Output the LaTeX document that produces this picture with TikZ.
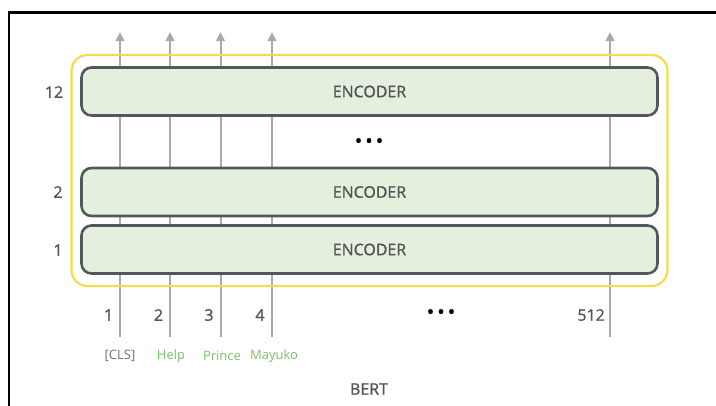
\documentclass[tikz,border=0pt]{standalone}
\usepackage{fontspec}
\setmainfont{Open Sans}
\newfontfamily\semib{Open Sans}[FakeBold=1.2]
\usetikzlibrary{arrows.meta}
\definecolor{encfill}{HTML}{E4EFDD}
\definecolor{encline}{HTML}{52585D}
\definecolor{bertline}{HTML}{F6DB4C}
\definecolor{flow}{HTML}{A9A9A9}
\definecolor{txt}{HTML}{555555}
\definecolor{tok}{HTML}{79C265}
\definecolor{clsgrey}{HTML}{707070}
\tikzset{
  encoderbox/.style={draw=encline, line width=2.6bp, fill=encfill, rounded corners=10bp,
    minimum width=576bp, minimum height=48bp, inner sep=0pt,
    text=txt, font=\semib\fontsize{16}{18}\selectfont},
  flowline/.style={draw=flow, line width=2bp, -{Triangle[length=9bp,width=8.5bp]}},
  layernum/.style={text=txt, font=\semib\fontsize{16}{18}\selectfont, inner sep=0pt},
  posnum/.style={text=txt, font=\semib\fontsize{16}{18}\selectfont, inner sep=0pt},
  token/.style={font=\fontsize{13}{15}\selectfont, inner sep=0pt},
  ellipsis/.style={text=black, font=\semib\fontsize{20}{22}\selectfont, inner sep=0pt}
}
\begin{document}
\begin{tikzpicture}[x=1bp, y=-1bp]
  \useasboundingbox (0,0) rectangle (716,405);
  % outer frame (open to the right and bottom)
  \draw[line width=2.4bp, black] (9,406) -- (9,12.5) -- (717,12.5);

  % token flow lines, positions 1..4 and 512
  \foreach \n/\x in {p1/120, p2/170, p3/220.5, p4/272, p512/610} {
    \coordinate (in-\n) at (\x,337);
    \coordinate (out-\n) at (\x,32);
    \draw[flowline] (in-\n) -- (out-\n);
  }

  % BERT model outline
  \node[draw=bertline, line width=2.2bp, rounded corners=16bp, minimum width=596bp,
        minimum height=231bp, inner sep=0pt] (bert) at (369.5,170.5) {};

  % encoder stack
  \node[encoderbox] (enc12) at (369.5,91.5) {ENCODER};
  \node[encoderbox] (enc2)  at (369.5,192) {ENCODER};
  \node[encoderbox] (enc1)  at (369.5,249.5) {ENCODER};

  % layer indices
  \node[layernum] (l12) at (54,92) {12};
  \node[layernum] (l2)  at (58,192) {2};
  \node[layernum] (l1)  at (58,250) {1};

  % skipped layers and positions
  \node[ellipsis] (vdots) at (369,143) {•\hspace{3bp}•\hspace{3bp}•};
  \node[ellipsis] (hdots) at (441,314) {•\hspace{3bp}•\hspace{3bp}•};

  % position indices
  \node[posnum] (n1) at (108.5,315) {1};
  \node[posnum] (n2) at (158.5,315) {2};
  \node[posnum] (n3) at (209,315) {3};
  \node[posnum] (n4) at (260,315) {4};
  \node[posnum, anchor=east] (n512) at (605,315) {512};

  % input tokens
  \node[token, text=clsgrey] (cls) at (120,356) {[CLS]};
  \node[token, text=tok] (help) at (171,356) {Help};
  \node[token, text=tok] (prince) at (222,356) {Prince};
  \node[token, text=tok] (mayuko) at (274,356) {Mayuko};

  % model name
  \node[text=txt, font=\semib\fontsize{16}{18}\selectfont, inner sep=0pt] (name) at (369,389) {BERT};
\end{tikzpicture}
\end{document}
